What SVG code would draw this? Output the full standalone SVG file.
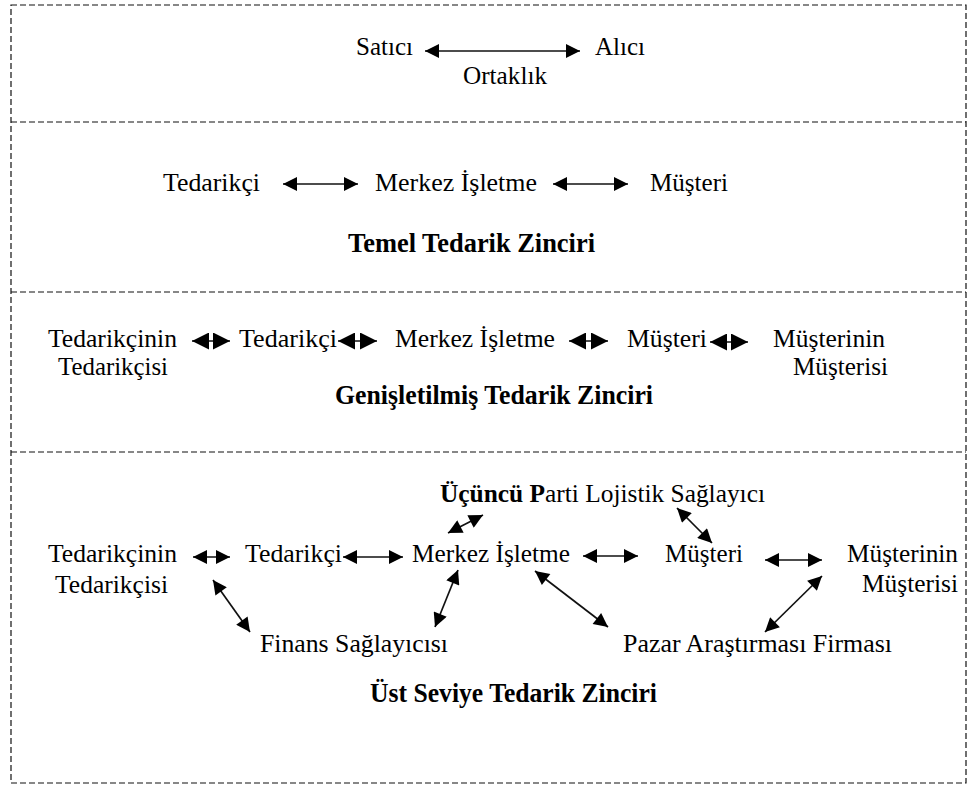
<svg xmlns="http://www.w3.org/2000/svg" width="969" height="787" viewBox="0 0 969 787">
<style>
  text { font-family: "Liberation Serif", "Times New Roman", serif; fill: #000; }
  .t { font-size: 25px; }
  .b { font-size: 27px; font-weight: bold; }
  .frame { fill: none; stroke: #111; stroke-width: 1.2; stroke-dasharray: 6 3; }
  .c { stroke: #111; stroke-width: 1.7; fill: none; }
  .c1 { marker-start: url(#ah); marker-end: url(#ah); }
  .c2 { marker-start: url(#ahs); marker-end: url(#ahs); }
</style>
<defs>
  <marker id="ah" viewBox="0 0 10 10" refX="10" refY="5" markerUnits="userSpaceOnUse" markerWidth="16" markerHeight="14" orient="auto-start-reverse">
    <path d="M0,0 L10,5 L0,10 z" fill="#000"/>
  </marker>
  <marker id="ahs" viewBox="0 0 10 10" refX="10" refY="5" markerUnits="userSpaceOnUse" markerWidth="19" markerHeight="17" orient="auto-start-reverse">
    <path d="M0,0 L10,5 L0,10 z" fill="#000"/>
  </marker>
</defs>
<rect width="969" height="787" fill="#fff"/>
<g id="frames">
  <rect class="frame" x="11" y="5" width="955" height="778"/>
  <line class="frame" x1="11" y1="122" x2="966" y2="122"/>
  <line class="frame" x1="11" y1="292" x2="966" y2="292" stroke-width="1.8"/>
  <line class="frame" x1="11" y1="452" x2="966" y2="452"/>
</g>
<g id="connectors">
  <line class="c c1" x1="425" y1="51" x2="580" y2="51"/>
  <line class="c c1" x1="283" y1="184" x2="358" y2="184"/>
  <line class="c c1" x1="553" y1="184" x2="628" y2="184"/>
  <line class="c c2" x1="192" y1="341" x2="230" y2="341"/>
  <line class="c c2" x1="338" y1="341" x2="377" y2="341"/>
  <line class="c c2" x1="569" y1="341" x2="608" y2="341"/>
  <line class="c c2" x1="710" y1="342" x2="748" y2="342"/>
  <line class="c c1" x1="193" y1="557" x2="230" y2="557"/>
  <line class="c c1" x1="343" y1="557" x2="403" y2="557"/>
  <line class="c c1" x1="448" y1="533" x2="483" y2="515"/>
  <line class="c c1" x1="458" y1="570" x2="435" y2="627"/>
  <line class="c c1" x1="213" y1="580" x2="250" y2="632"/>
  <line class="c c1" x1="583" y1="556" x2="638" y2="556"/>
  <line class="c c1" x1="677" y1="508" x2="712" y2="543"/>
  <line class="c c1" x1="535" y1="571" x2="608" y2="627"/>
  <line class="c c1" x1="765" y1="560" x2="822" y2="560"/>
  <line class="c c1" x1="822" y1="576" x2="765" y2="632"/>
</g>
<g id="s1">
  <g id="satici"><text class="t" x="356" y="55" textLength="57" lengthAdjust="spacingAndGlyphs">Satıcı</text></g>
  <g id="alici"><text class="t" x="595" y="55" textLength="50" lengthAdjust="spacingAndGlyphs">Alıcı</text></g>
  <g id="ortaklik"><text class="t" x="463" y="84" textLength="84" lengthAdjust="spacingAndGlyphs">Ortaklık</text></g>
</g>
<g id="s2">
  <g id="s2-tedarikci"><text class="t" x="163" y="191" textLength="97" lengthAdjust="spacingAndGlyphs">Tedarikçi</text></g>
  <g id="s2-merkez"><text class="t" x="375" y="191" textLength="162" lengthAdjust="spacingAndGlyphs">Merkez İşletme</text></g>
  <g id="s2-musteri"><text class="t" x="650" y="191" textLength="78" lengthAdjust="spacingAndGlyphs">Müşteri</text></g>
  <g id="s2-title"><text class="b" x="348" y="252" textLength="247" lengthAdjust="spacingAndGlyphs">Temel Tedarik Zinciri</text></g>
</g>
<g id="s3">
  <g id="s3-tt"><text class="t" x="48" y="347" textLength="129" lengthAdjust="spacingAndGlyphs">Tedarikçinin</text><text class="t" x="58" y="375" textLength="110" lengthAdjust="spacingAndGlyphs">Tedarikçisi</text></g>
  <g id="s3-tedarikci"><text class="t" x="239" y="347" textLength="98" lengthAdjust="spacingAndGlyphs">Tedarikçi</text></g>
  <g id="s3-merkez"><text class="t" x="395" y="347" textLength="160" lengthAdjust="spacingAndGlyphs">Merkez İşletme</text></g>
  <g id="s3-musteri"><text class="t" x="627" y="347" textLength="80" lengthAdjust="spacingAndGlyphs">Müşteri</text></g>
  <g id="s3-mm"><text class="t" x="773" y="347" textLength="112" lengthAdjust="spacingAndGlyphs">Müşterinin</text><text class="t" x="793" y="375" textLength="95" lengthAdjust="spacingAndGlyphs">Müşterisi</text></g>
  <g id="s3-title"><text class="b" x="335" y="404" textLength="318" lengthAdjust="spacingAndGlyphs">Genişletilmiş Tedarik Zinciri</text></g>
</g>
<g id="s4">
  <g id="s4-tt"><text class="t" x="48" y="562" textLength="129" lengthAdjust="spacingAndGlyphs">Tedarikçinin</text><text class="t" x="55" y="593" textLength="113" lengthAdjust="spacingAndGlyphs">Tedarikçisi</text></g>
  <g id="s4-tedarikci"><text class="t" x="245" y="562" textLength="97" lengthAdjust="spacingAndGlyphs">Tedarikçi</text></g>
  <g id="s4-merkez"><text class="t" x="412" y="562" textLength="158" lengthAdjust="spacingAndGlyphs">Merkez İşletme</text></g>
  <g id="s4-lojistik"><text class="t" x="440" y="502" textLength="325" lengthAdjust="spacingAndGlyphs"><tspan font-weight="bold">Üçüncü P</tspan>arti Lojistik Sağlayıcı</text></g>
  <g id="s4-musteri"><text class="t" x="665" y="562" textLength="78" lengthAdjust="spacingAndGlyphs">Müşteri</text></g>
  <g id="s4-mm"><text class="t" x="847" y="562" textLength="111" lengthAdjust="spacingAndGlyphs">Müşterinin</text><text class="t" x="862" y="592" textLength="96" lengthAdjust="spacingAndGlyphs">Müşterisi</text></g>
  <g id="s4-finans"><text class="t" x="260" y="652" textLength="188" lengthAdjust="spacingAndGlyphs">Finans Sağlayıcısı</text></g>
  <g id="s4-pazar"><text class="t" x="623" y="652" textLength="269" lengthAdjust="spacingAndGlyphs">Pazar Araştırması Firması</text></g>
  <g id="s4-title"><text class="b" x="370" y="702" textLength="287" lengthAdjust="spacingAndGlyphs">Üst Seviye Tedarik Zinciri</text></g>
</g>
</svg>
